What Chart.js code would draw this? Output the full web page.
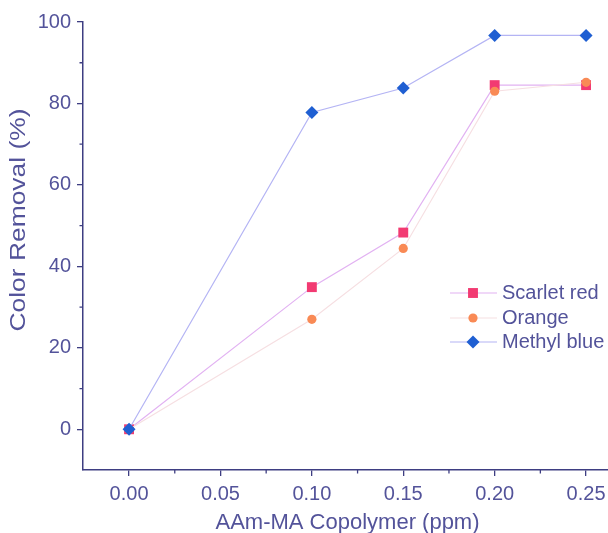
<!DOCTYPE html>
<html><head><meta charset="utf-8">
<script src="https://cdn.jsdelivr.net/npm/chart.js@4"></script>
<style>html,body{margin:0;padding:0;background:#fff}#w{width:608px;height:533px}</style>
</head><body><div id="w"><canvas id="c" width="608" height="533"></canvas></div>
<script>
const doses = [0.00, 0.10, 0.15, 0.20, 0.25];
const scarletRed = [0, 34.9, 48.3, 84.5, 84.5];
const orange = [0, 27.0, 44.4, 83.0, 85.2];
const methylBlue = [0, 77.8, 83.8, 96.7, 96.7];
const xTicks = [0.00, 0.05, 0.10, 0.15, 0.20, 0.25];
const xMinor = [0.025, 0.075, 0.125, 0.175, 0.225];
const yTicks = [0, 20, 40, 60, 80, 100];
const yMinor = [10, 30, 50, 70, 90];
const seriesNames = ['Scarlet red', 'Orange', 'Methyl blue'];
const xTitle = 'AAm-MA Copolymer (ppm)';
const yTitle = 'Color Removal (%)';

const AX = '#3e3e82';
const TXT = '#53539a';
const FONT = 'Liberation Sans, Arial, sans-serif';

const styles = [
  {line:'#e2b2f2', fill:'#f23a72', pt:'rect', r:7},
  {line:'#f6dfe2', fill:'#f98a55', pt:'circle', r:4.6},
  {line:'#b4b4f4', fill:'#1f5fd2', pt:'rectRot', r:6.5}
];
const series = [scarletRed, orange, methylBlue];
const orders = [2, 1, 0];

const datasets = series.map((s, i) => ({
  label: seriesNames[i],
  data: doses.map((d, j) => ({x: d, y: s[j]})),
  borderColor: styles[i].line,
  borderWidth: 1.2,
  backgroundColor: styles[i].fill,
  pointBackgroundColor: styles[i].fill,
  pointBorderColor: styles[i].fill,
  pointBorderWidth: 0,
  pointStyle: styles[i].pt,
  pointRadius: styles[i].r,
  pointHoverRadius: styles[i].r,
  order: orders[i],
  clip: false,
  tension: 0
}));

const extras = {
  id: 'extras',
  afterDraw(chart) {
    const ctx = chart.ctx;
    const xs = chart.scales.x, ys = chart.scales.y;
    const ca = chart.chartArea;
    ctx.save();
    ctx.strokeStyle = AX; ctx.lineWidth = 1.3;
    ctx.beginPath();
    xMinor.forEach(v => { const p = xs.getPixelForValue(v); ctx.moveTo(p, ca.bottom); ctx.lineTo(p, ca.bottom + 3.5); });
    yMinor.forEach(v => { const p = ys.getPixelForValue(v); ctx.moveTo(ca.left, p); ctx.lineTo(ca.left - 3.5, p); });
    ctx.stroke();
    // axis titles
    ctx.fillStyle = TXT;
    ctx.font = '22px ' + FONT;
    ctx.textAlign = 'center'; ctx.textBaseline = 'middle';
    ctx.fillText(xTitle, (ca.left + ca.right) / 2 + 2, 523);
    ctx.save();
    ctx.translate(19, 220); ctx.rotate(-Math.PI / 2);
    ctx.scale(1.2, 1);
    ctx.fillText(yTitle, 0, 0);
    ctx.restore();
    // legend
    const rows = [293, 318, 342];
    rows.forEach((y, i) => {
      ctx.strokeStyle = styles[i].line; ctx.lineWidth = 1.2;
      ctx.beginPath(); ctx.moveTo(450, y); ctx.lineTo(497, y); ctx.stroke();
      ctx.fillStyle = styles[i].fill; ctx.strokeStyle = styles[i].fill; ctx.lineWidth = 0.01;
      Chart.helpers.drawPoint(ctx, {pointStyle: styles[i].pt, radius: styles[i].r, borderWidth: 0.01}, 473, y);
      ctx.fillStyle = TXT; ctx.font = '20px ' + FONT; ctx.textAlign = 'left'; ctx.textBaseline = 'middle';
      ctx.fillText(seriesNames[i], 502, y);
    });
    ctx.restore();
  }
};

new Chart(document.getElementById('c'), {
  type: 'line',
  data: {datasets},
  options: {
    responsive: false,
    animation: false,
    devicePixelRatio: 1,
    layout: {autoPadding: false, padding: {top: 22, right: 0, left: 0, bottom: 0}},
    plugins: {legend: {display: false}, tooltip: {enabled: false}},
    scales: {
      x: {
        type: 'linear', min: -0.0252, max: 0.262,
        afterBuildTicks: s => { s.ticks = xTicks.map(v => ({value: v})); },
        afterFit: s => { s.height = 63; s.paddingLeft = 0; s.paddingRight = 0; },
        grid: {display: true, drawOnChartArea: false, drawTicks: true, tickLength: 6, color: AX, lineWidth: 1.3},
        border: {display: true, color: AX, width: 1.5},
        ticks: {autoSkip: false, maxRotation: 0, padding: 6, color: TXT, font: {family: FONT, size: 20},
          callback: v => v.toFixed(2)}
      },
      y: {
        type: 'linear', min: -10, max: 100,
        afterBuildTicks: s => { s.ticks = yTicks.map(v => ({value: v})); },
        afterFit: s => { s.width = 83; s.paddingTop = 0; s.paddingBottom = 0; },
        grid: {display: true, drawOnChartArea: false, drawTicks: true, tickLength: 6, color: AX, lineWidth: 1.3},
        border: {display: true, color: AX, width: 1.5},
        ticks: {autoSkip: false, padding: 6, color: TXT, font: {family: FONT, size: 20},
          callback: v => String(v)}
      }
    }
  },
  plugins: [extras]
});
</script>
</body></html>
